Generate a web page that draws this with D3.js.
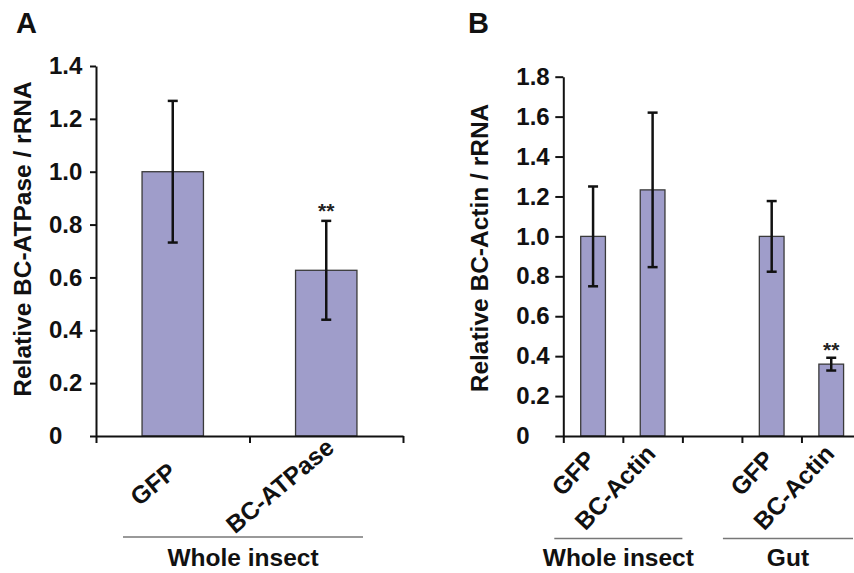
<!DOCTYPE html>
<head>
<meta charset="UTF-8">
<script src="https://cdn.jsdelivr.net/npm/d3@7"></script>
<style>
body { margin: 0; background: #fff; }
svg { display: block; font-family: "Liberation Sans", Arial, sans-serif; }
.axis path, .axis line { stroke: #111; stroke-width: 2px; }
.axis text { font-size: 24px; font-weight: bold; fill: #111; font-family: "Liberation Sans", Arial, sans-serif; }
.bar { fill: #9f9dca; stroke: #3a3a3a; stroke-width: 1.3px; }
.err { stroke: #111; stroke-width: 2.5px; fill: none; }
.ytitle { font-size: 24.5px; font-weight: bold; fill: #111; }
.cat { font-size: 24.5px; font-weight: bold; fill: #111; }
.group { font-size: 24.5px; font-weight: bold; fill: #111; }
.gline { stroke: #777; stroke-width: 1.6px; }
.star { font-size: 21px; font-weight: bold; fill: #222; }
.letter { font-size: 29px; font-weight: bold; fill: #111; }
</style>
</head>
<body>
<script>

// panel A: BC-ATPase, whole insect
var catsA  = ["GFP", "BC-ATPase"];
var meanA  = [1.0, 0.627];
var errA   = [0.268, 0.187];
var sigA   = ["", "**"];
var ticksA = [0, 0.2, 0.4, 0.6, 0.8, 1.0, 1.2, 1.4];
var groupsA = [{name: "Whole insect", from: 0, to: 1}];

// panel B: BC-Actin, whole insect and gut (third slot is the gap)
var catsB  = ["GFP", "BC-Actin", "", "GFP", "BC-Actin"];
var meanB  = [1.0, 1.233, null, 1.0, 0.36];
var errB   = [0.25, 0.387, null, 0.177, 0.032];
var sigB   = ["", "", "", "", "**"];
var ticksB = [0, 0.2, 0.4, 0.6, 0.8, 1.0, 1.2, 1.4, 1.6, 1.8];
var groupsB = [{name: "Whole insect", from: 0, to: 1}, {name: "Gut", from: 3, to: 4}];

var width = 854, height = 573;

var svg = d3.select("body").append("svg")
    .attr("width", width)
    .attr("height", height);

var fmt = function(d) { return d === 0 ? "0" : d3.format(".1f")(d); };

function panel(o) {
    var g = svg.append("g");
    var n = o.cats.length;
    var y = d3.scaleLinear().domain([0, o.max]).range([o.bottom, o.top]);
    var x = d3.scaleBand().domain(d3.range(n)).range([o.left, o.right]);
    var xl = d3.scaleLinear().domain([0, n]).range([o.left, o.right]);
    var bw = x.bandwidth() * o.barFrac;

    // bars
    var idx = d3.range(n).filter(function(i) { return o.mean[i] != null; });
    g.selectAll(".bar")
        .data(idx)
      .enter().append("rect")
        .attr("class", "bar")
        .attr("x", function(i) { return x(i) + (x.bandwidth() - bw) / 2; })
        .attr("width", bw)
        .attr("y", function(i) { return y(o.mean[i]); })
        .attr("height", function(i) { return y(0) - y(o.mean[i]); });

    // error bars
    var eb = g.selectAll(".errg")
        .data(idx)
      .enter().append("g");
    eb.append("line").attr("class", "err")
        .attr("x1", function(i) { return x(i) + x.bandwidth() / 2; })
        .attr("x2", function(i) { return x(i) + x.bandwidth() / 2; })
        .attr("y1", function(i) { return y(o.mean[i] + o.err[i]); })
        .attr("y2", function(i) { return y(o.mean[i] - o.err[i]); });
    [1, -1].forEach(function(s) {
        eb.append("line").attr("class", "err")
            .attr("x1", function(i) { return x(i) + x.bandwidth() / 2 - 5; })
            .attr("x2", function(i) { return x(i) + x.bandwidth() / 2 + 5; })
            .attr("y1", function(i) { return y(o.mean[i] + s * o.err[i]); })
            .attr("y2", function(i) { return y(o.mean[i] + s * o.err[i]); });
    });

    g.selectAll(".star")
        .data(idx.filter(function(i) { return o.sig[i]; }))
      .enter().append("text")
        .attr("class", "star")
        .attr("text-anchor", "middle")
        .attr("x", function(i) { return x(i) + x.bandwidth() / 2; })
        .attr("y", function(i) { return y(o.mean[i] + o.err[i]) - o.starGap; })
        .text(function(i) { return o.sig[i]; });

    // y axis, labels left aligned
    var ya = g.append("g").attr("class", "axis")
        .attr("transform", "translate(" + o.left + ",0)")
        .call(d3.axisLeft(y).tickValues(o.ticks).tickFormat(fmt)
            .tickSize(o.tickLen).tickSizeOuter(0));
    ya.selectAll("text").attr("text-anchor", "start").attr("x", -47);

    // x axis with ticks between categories
    g.append("g").attr("class", "axis")
        .attr("transform", "translate(0," + o.bottom + ")")
        .call(d3.axisBottom(xl).tickValues(d3.range(n + 1)).tickFormat("")
            .tickSize(7).tickSizeOuter(0));

    // rotated category labels
    g.selectAll(".cat")
        .data(d3.range(n).filter(function(i) { return o.cats[i]; }))
      .enter().append("text")
        .attr("class", "cat")
        .attr("text-anchor", "middle")
        .text(function(i) { return o.cats[i]; })
        .each(function(i) {
            var L = this.getComputedTextLength();
            var cx = x(i) + x.bandwidth() / 2 - 0.33 * L - 3;
            var cy = o.catY + o.catK * L;
            d3.select(this)
                .attr("transform", "translate(" + cx + "," + cy + ") rotate(" + o.angle + ")")
                .attr("dy", "0.35em");
        });

    // group brackets
    o.groups.forEach(function(gr, k) {
        var a = x(gr.from) + o.gIn[k][0];
        var b = Math.min(x(gr.to) + x.bandwidth() + o.gIn[k][1], width - 1);
        g.append("line").attr("class", "gline")
            .attr("x1", a).attr("x2", b)
            .attr("y1", o.gLineY).attr("y2", o.gLineY);
        g.append("text").attr("class", "group")
            .attr("text-anchor", "middle")
            .attr("x", (a + b) / 2).attr("y", 566)
            .text(gr.name);
    });

    g.append("text").attr("class", "ytitle")
        .attr("text-anchor", "middle")
        .attr("transform", "translate(" + o.titleX + "," + o.titleY + ") rotate(-90)")
        .text(o.title);

    g.append("text").attr("class", "letter")
        .attr("x", o.letterX).attr("y", 33)
        .text(o.letter);
}

panel({
    cats: catsA, mean: meanA, err: errA, sig: sigA, ticks: ticksA, groups: groupsA,
    max: 1.4, left: 96, right: 403, top: 66, bottom: 436, barFrac: 0.4,
    tickLen: 6, starGap: 3, angle: -40, catY: 483, catK: 0.02,
    gIn: [[27, -40]], gLineY: 537,
    title: "Relative BC-ATPase / rRNA", titleX: 31, titleY: 239,
    letter: "A", letterX: 16
});

panel({
    cats: catsB, mean: meanB, err: errB, sig: sigB, ticks: ticksB, groups: groupsB,
    max: 1.8, left: 563.3, right: 861, top: 76.7, bottom: 436, barFrac: 0.415,
    tickLen: 8, starGap: 1, angle: -47, catY: 460, catK: 0.26,
    gIn: [[-9, 0], [-19, -8]], gLineY: 538.5,
    title: "Relative BC-Actin / rRNA", titleX: 488, titleY: 248,
    letter: "B", letterX: 468
});

</script>
</body>
